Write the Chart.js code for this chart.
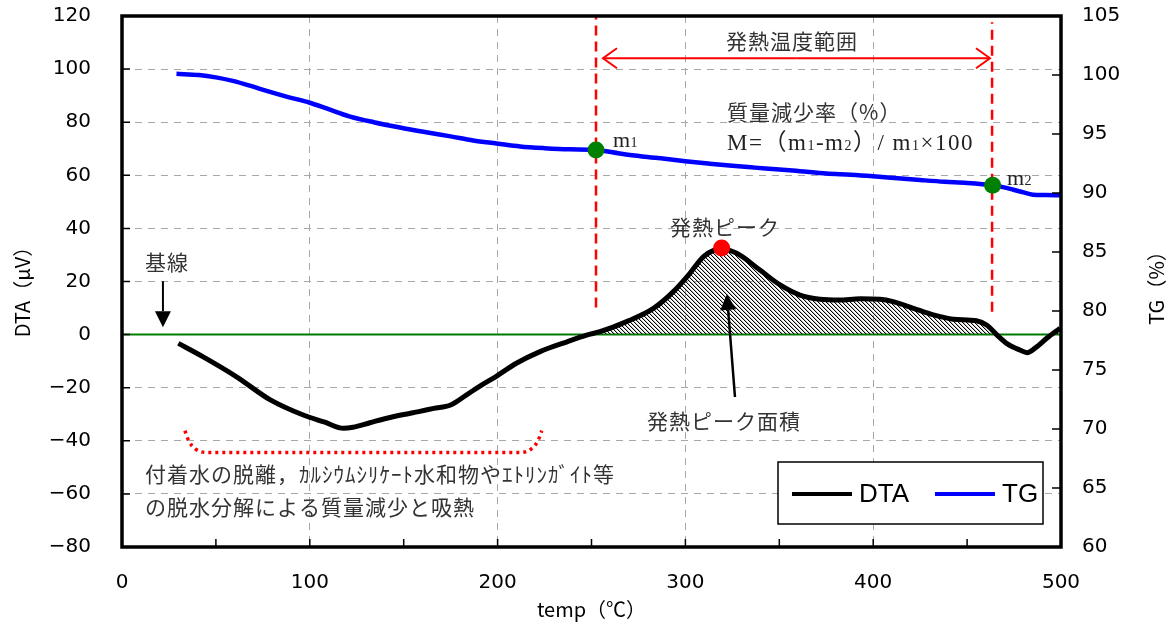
<!DOCTYPE html>
<html lang="ja">
<head>
<meta charset="utf-8">
<title>DTA / TG</title>
<script src="https://cdn.jsdelivr.net/npm/chart.js@4.4.1/dist/chart.umd.min.js"></script>
<style>
  html, body { margin: 0; padding: 0; background: #fff; }
  #wrap { width: 1174px; height: 625px; }
</style>
</head>
<body>
<div id="wrap"><canvas id="chart" width="1174" height="625"></canvas></div>
<script>
// DTA曲線 (温度 ℃ / μV)
const dtaTemp = [30, 43, 61, 79, 96.5, 108, 118, 123, 132, 141, 150, 158, 166, 175, 183.5, 191, 199.5, 210, 222.6, 237,
  247.4, 254.5, 268.7, 283, 293.6, 302.4, 309.5, 314.8, 319.3, 327.3, 339.7, 350.4, 361, 371.7, 382, 393, 403.6, 410.6,
  421.4, 432, 442.7, 455, 460.4, 465.7, 471, 478, 482, 486, 492.4, 499.5];
const dtaValues = [-3.3, -8.3, -15.9, -24.6, -30.3, -33, -35.3, -34.9, -33.2, -31.5, -30.1, -29, -27.8, -26.5, -22.7, -19.2,
  -15.6, -10.8, -6.4, -2.7, -0.2, 1.1, 4.9, 9.9, 16.2, 23.1, 29.3, 31.6, 32.1, 30.6, 24.3, 18.7, 14.9, 13.3, 13.0, 13.5,
  13.3, 12.4, 9.9, 7.4, 5.8, 5.2, 3.6, 0, -3.3, -5.8, -6.8, -5.2, -1.4, 2.4];
// TG曲線 (温度 ℃ / %)
const tgTemp = [29, 41, 50, 59, 68, 77, 88, 100, 110, 121, 134, 148, 162, 175, 187, 199.5, 212, 225, 238, 252.4, 265, 277,
  289, 300, 312, 325, 337, 350, 361, 375, 388, 400, 413, 425, 438, 450, 463.6, 469, 474.6, 480, 485, 492, 500];
const tgValues = [100.1, 100.0, 99.8, 99.5, 99.1, 98.65, 98.15, 97.65, 97.1, 96.5, 96.0, 95.55, 95.15, 94.8, 94.45, 94.2,
  93.95, 93.8, 93.7, 93.65, 93.35, 93.1, 92.9, 92.7, 92.5, 92.3, 92.15, 92.0, 91.85, 91.65, 91.55, 91.42, 91.25, 91.1,
  90.95, 90.85, 90.65, 90.5, 90.28, 90.05, 89.86, 89.82, 89.8];
// 目盛り
const tempTicks = [0, 100, 200, 300, 400, 500];
const dtaTicks = [-80, -60, -40, -20, 0, 20, 40, 60, 80, 100, 120];
const tgTicks = [60, 65, 70, 75, 80, 85, 90, 95, 100, 105];
// 発熱ピーク
const peakTemp = [319.3];
const peakValue = [32.6];
// m1, m2 (TG上の点)
const massTemps = [252.4, 463.6];
const massValues = [93.65, 90.65];
// 発熱温度範囲の縦線 (DTA軸の値)
const rangeTemps = [252.4, 463.3];
const rangeLow = [10.2, 8.6];
const rangeHigh = [119.5, 117.6];
// 吸熱範囲の赤い点線
const bracketTemp = [33.5, 35.5, 39, 45, 212, 218, 221.5, 223.5];
const bracketValues = [-36.2, -40, -43, -44.4, -44.4, -43, -40, -36.2];
// 凡例に出す系列
const legendNames = ["DTA", "TG"];

const tickFont = { family: "'DejaVu Sans', sans-serif", size: 20 };
const jpFont = "'Noto Sans CJK JP', sans-serif";
const serifFont = "'Liberation Serif', 'DejaVu Serif', 'Noto Sans CJK JP', serif";

// 斜線ハッチのパターン
function makeHatch(ctx) {
  const c = document.createElement("canvas");
  c.width = 4; c.height = 4;
  const g = c.getContext("2d");
  for (let i = 0; i < 4; i++) {
    g.fillStyle = "#000";
    g.fillRect(i, i, 1, 1);
    g.fillStyle = "rgba(0,0,0,0.25)";
    g.fillRect((i + 1) % 4, i, 1, 1);
  }
  return ctx.createPattern(c, "repeat");
}

const pts = (xs, ys) => xs.map((x, i) => ({ x, y: ys[i] }));

function drawArrow(ctx, x1, y1, x2, y2, len, half, filled) {
  const ang = Math.atan2(y2 - y1, x2 - x1);
  const bx = x2 - len * Math.cos(ang), by = y2 - len * Math.sin(ang);
  const px = -Math.sin(ang) * half, py = Math.cos(ang) * half;
  ctx.beginPath();
  ctx.moveTo(x1, y1);
  ctx.lineTo(filled ? bx : x2, filled ? by : y2);
  ctx.stroke();
  ctx.beginPath();
  if (filled) {
    ctx.moveTo(x2, y2);
    ctx.lineTo(bx + px, by + py);
    ctx.lineTo(bx - px, by - py);
    ctx.closePath();
    ctx.fill();
  } else {
    ctx.moveTo(bx + px, by + py);
    ctx.lineTo(x2, y2);
    ctx.lineTo(bx - px, by - py);
    ctx.stroke();
  }
}

// 添字つきテキスト
function richText(ctx, parts, x, y, size) {
  let cx = x;
  parts.forEach((p) => {
    const sub = typeof p !== "string";
    const s = sub ? p.sub : p;
    ctx.font = `${sub ? Math.round(size * 0.62) : size}px ${serifFont}`;
    ctx.fillText(s, cx, sub ? y + size * 0.12 : y);
    cx += ctx.measureText(s).width;
  });
}

const decorPlugin = {
  id: "decor",
  afterDatasetsDraw(chart) {
    const { ctx, chartArea: a, scales } = chart;
    const { x, y, y1 } = scales;
    const X = (t) => x.getPixelForValue(t);
    const Y = (v) => y.getPixelForValue(v);
    ctx.save();

    // 内向きの目盛り
    ctx.strokeStyle = "#000";
    ctx.lineWidth = 1.5;
    ctx.beginPath();
    for (let t = 50; t < 500; t += 50) {
      ctx.moveTo(X(t), a.bottom); ctx.lineTo(X(t), a.bottom - 8);
    }
    dtaTicks.slice(1, -1).forEach((v) => { ctx.moveTo(a.left, Y(v)); ctx.lineTo(a.left + 8, Y(v)); });
    tgTicks.slice(1, -1).forEach((v) => {
      const py = y1.getPixelForValue(v);
      ctx.moveTo(a.right, py); ctx.lineTo(a.right - 9, py);
    });
    ctx.stroke();

    // 枠
    ctx.lineWidth = 3.5;
    ctx.strokeRect(a.left, a.top, a.right - a.left, a.bottom - a.top);

    // 発熱温度範囲の矢印
    ctx.strokeStyle = "#ff0000";
    ctx.lineWidth = 2;
    const ay = Y(104.1);
    drawArrow(ctx, X(359), ay, X(256.1), ay, 14, 10, false);
    drawArrow(ctx, X(359), ay, X(462.2), ay, 14, 10, false);

    // 黒い矢印
    ctx.strokeStyle = "#000";
    ctx.fillStyle = "#000";
    ctx.lineWidth = 2;
    drawArrow(ctx, X(21.8), Y(20.1), X(21.8), Y(2.8), 16, 8, true);
    ctx.lineWidth = 2.5;
    drawArrow(ctx, X(326.4), Y(-23.5), X(322.1), Y(15.3), 16, 8, true);

    // 注記テキスト
    ctx.fillStyle = "#333";
    ctx.textBaseline = "middle";
    ctx.letterSpacing = "1px";
    ctx.font = `21px ${jpFont}`;
    ctx.textAlign = "center";
    ctx.fillText("発熱温度範囲", X(356.8), Y(110.5));
    ctx.textAlign = "left";
    ctx.fillText("質量減少率（%）", X(322.2), Y(83.8));
    ctx.fillText("発熱ピーク", X(291.8), Y(40.5));
    ctx.fillText("基線", X(12.2), Y(27.3));
    ctx.fillText("発熱ピーク面積", X(279.6), Y(-32.6));
    ctx.fillText("付着水の脱離，ｶﾙｼｳﾑｼﾘｹｰﾄ水和物やｴﾄﾘﾝｶﾞｲﾄ等", X(12.2), Y(-52.5));
    ctx.fillText("の脱水分解による質量減少と吸熱", X(12.2), Y(-65));
    ctx.fillStyle = "#222";
    ctx.letterSpacing = "1.5px";
    richText(ctx, ["M=（m", { sub: "1" }, "-m", { sub: "2" }, "）/ m", { sub: "1" }, "×100"], X(322.2), Y(71.8), 23);
    ctx.letterSpacing = "0.5px";
    richText(ctx, ["m", { sub: "1" }], X(261.4), Y(72.9), 22);
    richText(ctx, ["m", { sub: "2" }], X(471.2), Y(58.6), 22);
    ctx.letterSpacing = "0px";

    // 凡例
    const bx = a.right - 283, by = a.bottom - 85;
    ctx.fillStyle = "#fff";
    ctx.fillRect(bx, by, 265, 62);
    ctx.strokeStyle = "#000";
    ctx.lineWidth = 1.5;
    ctx.strokeRect(bx, by, 265, 62);
    const items = legendNames.map((n) => chart.data.datasets.find((d) => d.label === n));
    ctx.font = "26px 'Liberation Sans', Arial, sans-serif";
    ctx.fillStyle = "#000";
    ctx.textAlign = "left";
    let lx = bx + 14;
    items.forEach((d) => {
      ctx.strokeStyle = d.borderColor;
      ctx.lineWidth = 4;
      ctx.beginPath();
      ctx.moveTo(lx, by + 32); ctx.lineTo(lx + 60, by + 32);
      ctx.stroke();
      ctx.fillText(d.label, lx + 67, by + 33);
      lx += 143;
    });
    ctx.restore();
  },
  afterDraw(chart) {
    const { ctx, chartArea: a } = chart;
    ctx.save();
    ctx.fillStyle = "#000";
    ctx.textAlign = "center";
    ctx.textBaseline = "middle";
    ctx.font = `20px ${jpFont}`;
    ctx.fillText("temp（℃）", (a.left + a.right) / 2, 609);
    ctx.translate(22, 287);
    ctx.rotate(-Math.PI / 2);
    ctx.fillText("DTA（μV）", 0, 0);
    ctx.restore();
    ctx.save();
    ctx.fillStyle = "#000";
    ctx.textAlign = "center";
    ctx.textBaseline = "middle";
    ctx.font = `20px ${jpFont}`;
    ctx.translate(1156, 283);
    ctx.rotate(-Math.PI / 2);
    ctx.fillText("TG（%）", 0, 0);
    ctx.restore();
  },
};

window.addEventListener("DOMContentLoaded", () => {
  const canvas = document.getElementById("chart");
  const hatch = makeHatch(canvas.getContext("2d"));
  const gridColor = (c) => {
    const v = c.tick ? c.tick.value : null;
    return v === c.scale.min || v === c.scale.max ? "rgba(0,0,0,0)" : "#a8a8a8";
  };
  // 軸の幅を固定して描画領域を合わせる
  const fixWidth = (w) => (s) => { s.width = w; s.paddingTop = 0; s.paddingBottom = 0; };

  new Chart(canvas, {
    type: "line",
    data: {
      datasets: [
        { label: "peak", data: pts(peakTemp, peakValue), yAxisID: "y", showLine: false, pointRadius: 8.5,
          pointBackgroundColor: "#ff0000", pointBorderWidth: 0, order: 0 },
        { label: "mass", data: pts(massTemps, massValues), yAxisID: "y1", showLine: false, pointRadius: 8.5,
          pointBackgroundColor: "#008000", pointBorderWidth: 0, order: 0 },
        ...rangeTemps.map((t, i) => ({
          label: "range" + i, data: pts([t, t], [rangeLow[i], rangeHigh[i]]), yAxisID: "y",
          borderColor: "#ff0000", borderWidth: 2.5, borderDash: [10, 6], pointRadius: 0, order: 2,
        })),
        { label: "TG", data: pts(tgTemp, tgValues), yAxisID: "y1", borderColor: "#0000ff", borderWidth: 4.5,
          pointRadius: 0, cubicInterpolationMode: "monotone", order: 1 },
        { label: "DTA", data: pts(dtaTemp, dtaValues), yAxisID: "y", borderColor: "#000000", borderWidth: 5,
          pointRadius: 0, cubicInterpolationMode: "monotone", order: 3,
          fill: { target: { value: 0 }, above: hatch, below: "rgba(0,0,0,0)" } },
        { label: "base", data: pts([0, 500], [0, 0]), yAxisID: "y", borderColor: "#008000", borderWidth: 2,
          pointRadius: 0, order: 4 },
        { label: "bracket", data: pts(bracketTemp, bracketValues), yAxisID: "y", borderColor: "#ff0000",
          borderWidth: 3.5, borderDash: [3, 4], pointRadius: 0, cubicInterpolationMode: "monotone", order: 2 },
      ],
    },
    options: {
      responsive: false,
      devicePixelRatio: 1,
      animation: false,
      layout: { padding: { top: 16, left: 0, right: 0, bottom: 0 } },
      plugins: { legend: { display: false }, tooltip: { enabled: false } },
      scales: {
        x: {
          type: "linear", min: 0, max: 500,
          afterBuildTicks: (s) => { s.ticks = tempTicks.map((v) => ({ value: v })); },
          afterFit: (s) => { s.height = 78; s.paddingLeft = 0; s.paddingRight = 0; },
          ticks: { font: tickFont, color: "#000", padding: 24, maxRotation: 0, autoSkip: false },
          grid: { color: gridColor, lineWidth: 1, drawTicks: false },
          border: { display: false, dash: [7, 6] },
        },
        y: {
          position: "left", min: -80, max: 120,
          afterBuildTicks: (s) => { s.ticks = dtaTicks.map((v) => ({ value: v })); },
          afterFit: fixWidth(122),
          ticks: { font: tickFont, color: "#000", padding: 31, callback: (v) => String(v).replace("-", "\u2212") },
          grid: { color: gridColor, lineWidth: 1, drawTicks: false },
          border: { display: false, dash: [7, 6] },
        },
        y1: {
          position: "right", min: 60, max: 105,
          afterBuildTicks: (s) => { s.ticks = tgTicks.map((v) => ({ value: v })); },
          afterFit: fixWidth(113),
          ticks: { font: tickFont, color: "#000", padding: 21 },
          grid: { drawOnChartArea: false, drawTicks: false },
          border: { display: false },
        },
      },
    },
    plugins: [decorPlugin],
  });
});
</script>
</body>
</html>
